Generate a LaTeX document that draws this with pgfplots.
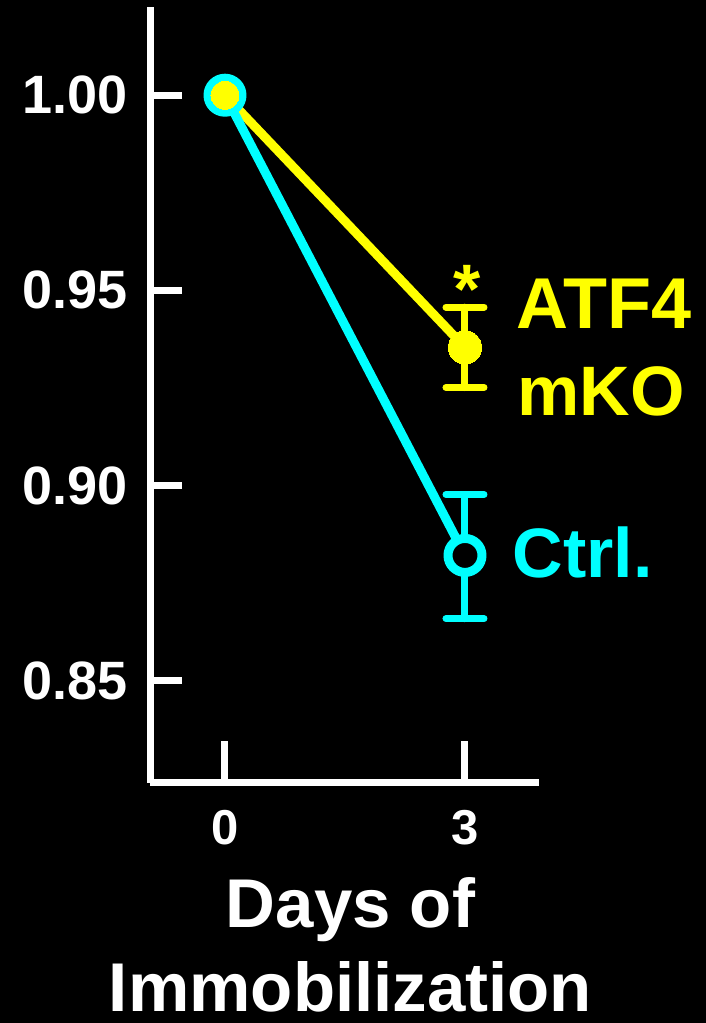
\documentclass[border=0pt]{standalone}
\usepackage{fontspec}
\setmainfont{Liberation Sans}
\usepackage{pgfplots}
\pgfplotsset{compat=1.18}
\definecolor{cyanc}{RGB}{0,255,255}
\definecolor{yellowc}{RGB}{255,255,0}
\begin{document}
\begin{tikzpicture}
\useasboundingbox (0,0) rectangle (353pt,511.5pt);
\fill[black] (0,0) rectangle (353pt,511.5pt);
\begin{axis}[
  at={(75pt,120pt)}, anchor=south west,
  scale only axis, width=194.5pt, height=388pt,
  xmin=-0.9375, xmax=3.925, ymin=0.8238, ymax=1.0226,
  axis x line=bottom, axis y line=left,
  axis line style={white, line width=3.5pt, -},
  tick align=inside,
  major tick length=16pt,
  xtick style={white, line width=3.5pt, /pgfplots/major tick length=21pt},
  ytick style={white, line width=3.5pt},
  xtick={0,3}, xticklabels={0,3},
  ytick={0.85,0.90,0.95,1.00}, yticklabels={0.85,0.90,0.95,1.00},
  /pgf/number format/assume math mode=true,
  yticklabel style={anchor=east, inner sep=0pt, xshift=-11pt, text=white, font=\bfseries\fontsize{27}{30}\selectfont},
  xticklabel style={anchor=north, inner sep=0pt, yshift=-13.5pt, text=white, font=\bfseries\fontsize{24.5}{28}\selectfont},
  xlabel={Days of\\Immobilization},
  xlabel style={at={(axis description cs:0.5,0)}, anchor=north, inner sep=0pt, yshift=-47pt, xshift=3pt, align=center, text=white, font=\bfseries\fontsize{34.5}{42}\selectfont},
  clip=false,
]
% ATF4 error bar
\addplot[yellowc, mark=none, error bars/.cd, y dir=both, y explicit, error mark=|,
  error bar style={yellowc, line width=3.5pt, line cap=round},
  error mark options={yellowc, line width=3.5pt, mark size=9.5pt, line cap=round}]
  coordinates {(3,0.9354) +- (0,0.0103)};
% ATF4 line
\addplot[yellowc, line width=4.5pt, line join=round, mark=*, mark size=8.3pt, mark indices={2},
  mark options={draw=yellowc, fill=yellowc, line width=0pt}]
  coordinates {(0,1.000) (3,0.9354)};
% Ctrl error bar
\addplot[cyanc, mark=none, error bars/.cd, y dir=both, y explicit, error mark=|,
  error bar style={cyanc, line width=3.5pt, line cap=round},
  error mark options={cyanc, line width=3.5pt, mark size=9.5pt, line cap=round}]
  coordinates {(3,0.8821) += (0,0.0156) -= (0,0.0162)};
% Ctrl line
\addplot[cyanc, line width=4.5pt, line join=round, mark=*, mark size=8.5pt,
  mark options={draw=cyanc, fill=black, line width=4.5pt}]
  coordinates {(0,1.000) (3,0.8821)};
% ATF4 point at day 0 (on top)
\addplot[only marks, mark=*, mark size=7pt,
  mark options={draw=yellowc, fill=yellowc, line width=0pt}]
  coordinates {(0,1.000)};
\node[anchor=base west, inner sep=0pt, text=yellowc, font=\bfseries\fontsize{36}{40}\selectfont] at (axis cs:3.64,0.9403) {ATF4};
\node[anchor=base west, inner sep=0pt, text=yellowc, font=\bfseries\fontsize{35}{40}\selectfont] at (axis cs:3.65,0.9179) {mKO};
\node[anchor=base west, inner sep=0pt, text=cyanc, font=\bfseries\fontsize{35}{40}\selectfont] at (axis cs:3.59,0.8764) {Ctrl.};
\node[anchor=base, inner sep=0pt, text=yellowc, font=\bfseries\fontsize{35}{40}\selectfont] at (axis cs:3.025,0.9441) {*};
\end{axis}
\end{tikzpicture}
\end{document}
